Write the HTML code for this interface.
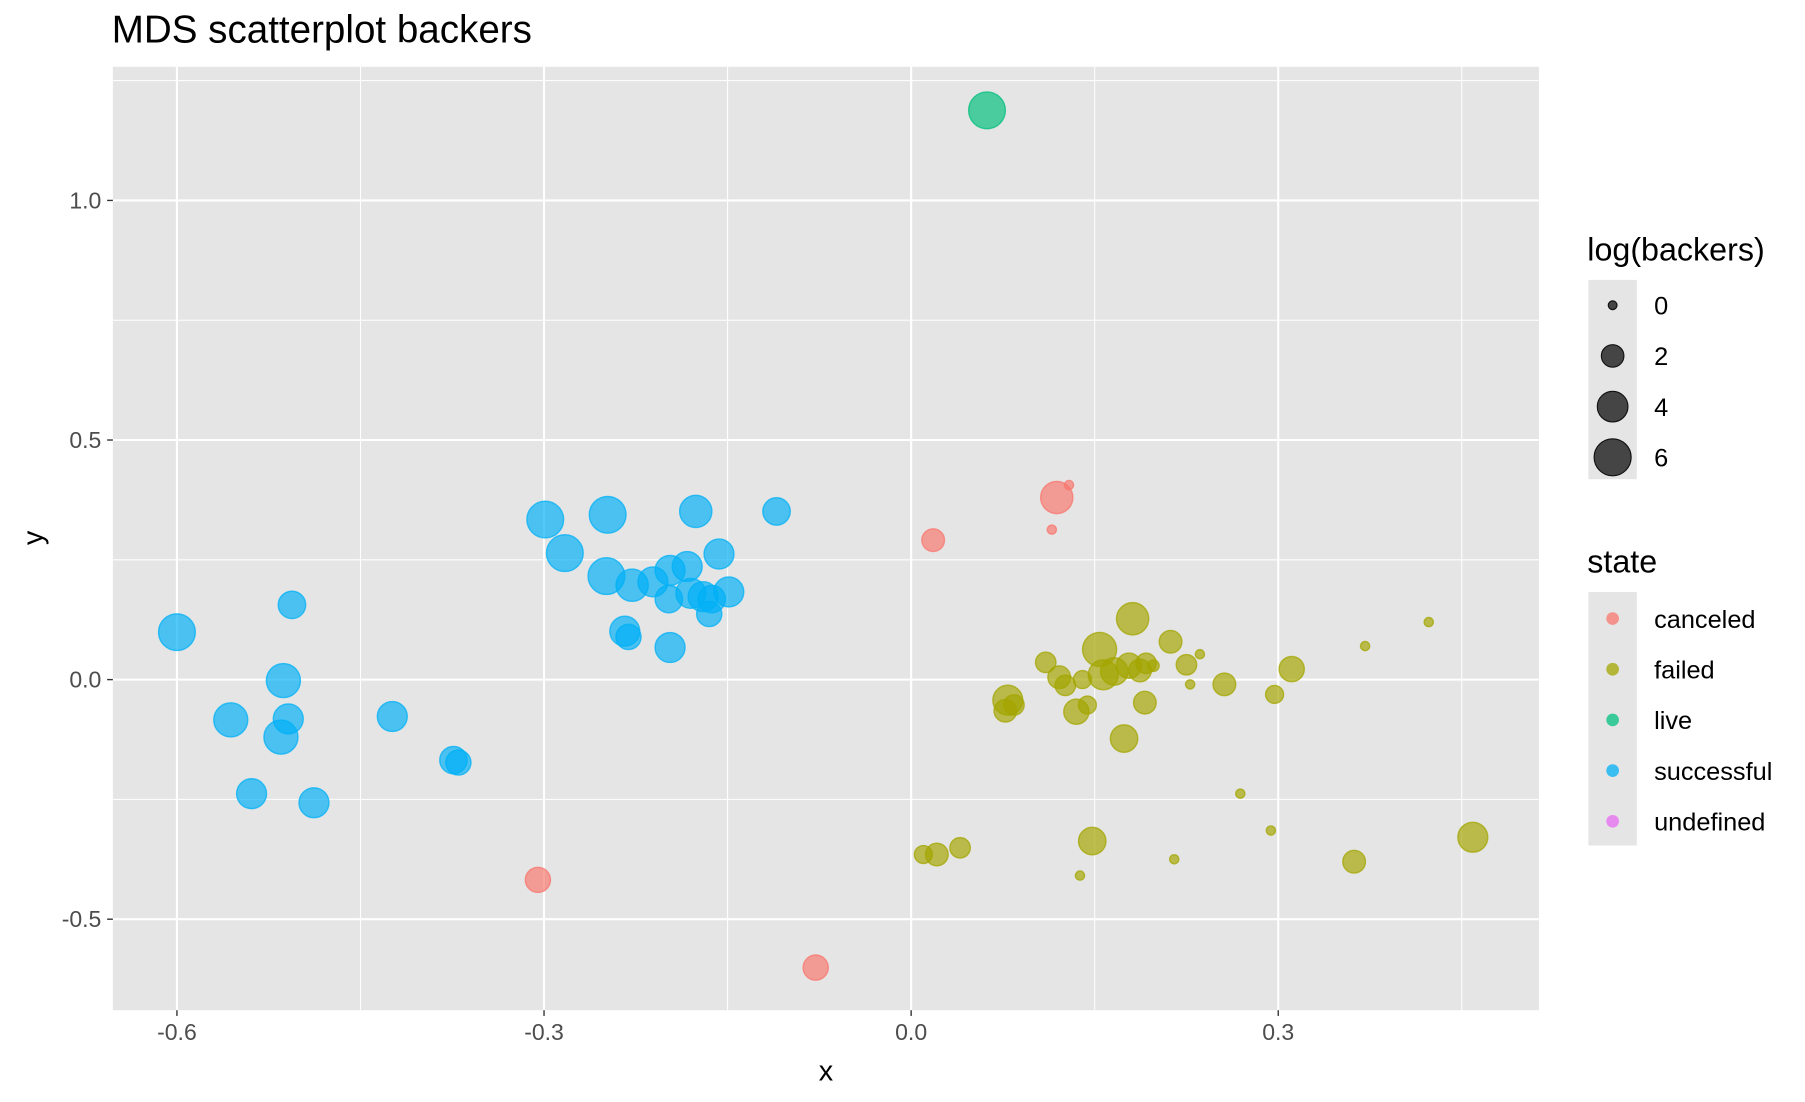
<!DOCTYPE html>
<html><head><meta charset="utf-8"><style>
html,body{margin:0;padding:0;background:#fff;}
svg{display:block;font-family:"Liberation Sans",Arial,sans-serif;}
</style></head><body>
<svg id="chart" width="1805" height="1102" viewBox="0 0 1567 956.7" preserveAspectRatio="none" xmlns="http://www.w3.org/2000/svg">
<text x="97" y="37" font-size="33.5" fill="#000">MDS scatterplot backers</text>
<rect x="98" y="58" width="1238" height="819" fill="#e5e5e5"/>
<g id="grid"></g>
<g id="points"></g>
<g id="axes"></g>
<text x="717" y="938" font-size="25" text-anchor="middle">x</text>
<text transform="translate(37,467) rotate(-90)" font-size="25" text-anchor="middle">y</text>
<g id="legend"></g>
</svg>
<script>
const stateNames = ["canceled","failed","live","successful","undefined"];
const stateColors = ["#F8766D","#A3A500","#00BF7D","#00B0F6","#E76BF3"];
const xTicks = [-0.6,-0.3,0.0,0.3];
const xTickLabels = ["-0.6","-0.3","0.0","0.3"];
const yTicks = [-0.5,0.0,0.5,1.0];
const yTickLabels = ["-0.5","0.0","0.5","1.0"];
const xMinor = [-0.45,-0.15,0.15,0.45];
const yMinor = [-0.25,0.25,0.75,1.25];
const sizeBreaks = [0,2,4,6];
// points: x, y, log(backers), state index
const ptX = [0.062, 0.119,0.129,0.115,0.018,-0.305,-0.078,
 -0.600,-0.506,-0.513,-0.556,-0.509,-0.515,-0.539,-0.488,-0.424,-0.374,-0.370,-0.299,-0.283,-0.248,-0.249,-0.228,-0.234,-0.231,-0.211,-0.197,-0.198,-0.197,-0.183,-0.176,-0.157,-0.180,-0.170,-0.163,-0.165,-0.149,-0.110,
 0.181,0.154,0.212,0.110,0.121,0.126,0.140,0.157,0.166,0.178,0.187,0.192,0.198,0.225,0.236,0.228,0.256,0.311,0.297,0.371,0.423,0.079,0.077,0.084,0.144,0.135,0.191,0.174,0.269,0.294,0.215,0.138,0.148,0.010,0.021,0.040,0.362,0.459];
const ptY = [1.188, 0.380,0.406,0.313,0.291,-0.418,-0.601,
 0.099,0.156,-0.002,-0.084,-0.082,-0.120,-0.238,-0.257,-0.077,-0.168,-0.173,0.334,0.264,0.344,0.216,0.197,0.101,0.089,0.204,0.228,0.168,0.067,0.236,0.351,0.262,0.180,0.173,0.168,0.137,0.183,0.351,
 0.127,0.063,0.079,0.036,0.005,-0.012,0.000,0.010,0.017,0.029,0.019,0.034,0.029,0.031,0.053,-0.010,-0.010,0.022,-0.031,0.070,0.120,-0.043,-0.065,-0.053,-0.053,-0.067,-0.048,-0.123,-0.238,-0.315,-0.375,-0.409,-0.337,-0.365,-0.365,-0.351,-0.380,-0.329];
const ptSize = [5.3, 4,0,0,1.8,2.3,2.3,
 5.3,2.8,4.5,4.5,3.4,4.5,3.4,3.4,3.4,2.8,2.3,5.3,5.3,5.3,5.3,4,3.4,2.3,3.4,3.4,2.8,3.4,3.4,4,3.4,3.4,3.4,2.8,2.3,3.4,2.8,
 4,4.5,1.8,1.4,1.8,1.4,1,3.4,2.8,2.3,1.8,1.4,0.2,1.4,0,0,1.8,2.3,1,0,0,3.4,1.8,1.4,1,2.3,1.8,2.8,0,0,0,0,2.8,1,1.8,1.4,1.8,3.4];
const ptState = [2, 0,0,0,0,0,0,
 3,3,3,3,3,3,3,3,3,3,3,3,3,3,3,3,3,3,3,3,3,3,3,3,3,3,3,3,3,3,3,
 1,1,1,1,1,1,1,1,1,1,1,1,1,1,1,1,1,1,1,1,1,1,1,1,1,1,1,1,1,1,1,1,1,1,1,1,1,1];

const NS="http://www.w3.org/2000/svg";
const sx = v => 791 + v*(318.7/0.3);
const sy = v => 590 - v*416;
const rad = v => Math.sqrt(16 + 45*v);
function mk(tag, attrs, parent){const e=document.createElementNS(NS,tag);for(const k in attrs)e.setAttribute(k,attrs[k]);parent.appendChild(e);return e;}
const grid=document.getElementById('grid'), pts=document.getElementById('points'), axes=document.getElementById('axes'), leg=document.getElementById('legend');
xMinor.forEach(v=>{const l=mk('line',{x1:sx(v),x2:sx(v),y1:58,y2:877,stroke:'#fff','stroke-width':0.9},grid);

});
yMinor.forEach(v=>{const l=mk('line',{x1:98,x2:1336,y1:sy(v),y2:sy(v),stroke:'#fff','stroke-width':0.9},grid);

});
xTicks.forEach((v,i)=>{const l=mk('line',{x1:sx(v),x2:sx(v),y1:58,y2:877,stroke:'#fff','stroke-width':1.8},grid);


const t=mk('line',{x1:sx(v),x2:sx(v),y1:877,y2:882,stroke:'#333','stroke-width':1.2},axes);


const tx=mk('text',{x:sx(v),y:903,'font-size':20,'text-anchor':'middle',fill:'#4d4d4d'},axes);tx.textContent=xTickLabels[i];

});
yTicks.forEach((v,i)=>{const l=mk('line',{x1:98,x2:1336,y1:sy(v),y2:sy(v),stroke:'#fff','stroke-width':1.8},grid);


const t=mk('line',{x1:93,x2:98,y1:sy(v),y2:sy(v),stroke:'#333','stroke-width':1.2},axes);


const tx=mk('text',{x:88,y:sy(v)+7,'font-size':20,'text-anchor':'end',fill:'#4d4d4d'},axes);tx.textContent=yTickLabels[i];

});
ptX.forEach((v,i)=>{const c=stateColors[ptState[i]];
const p=mk('circle',{cx:sx(v),cy:sy(ptY[i]),r:rad(ptSize[i]),fill:c,'fill-opacity':0.68,stroke:c,'stroke-opacity':0.75,'stroke-width':1.2},pts);

});
// legends
const t1=mk('text',{x:1378,y:226,'font-size':28},leg);t1.textContent='log(backers)';


const b1=mk('rect',{x:1379,y:243,width:42,height:173,fill:'#e5e5e5'},leg);


sizeBreaks.forEach((v,i)=>{const y=265+i*44;
const c=mk('circle',{cx:1400,cy:y,r:rad(v)*0.95,fill:'#333','fill-opacity':0.9,stroke:'#111','stroke-width':1},leg);


const t=mk('text',{x:1436,y:y+8,'font-size':22},leg);t.textContent=String(v);

});
const t2=mk('text',{x:1378,y:497,'font-size':28},leg);t2.textContent='state';


const b2=mk('rect',{x:1379,y:514,width:42,height:220,fill:'#e5e5e5'},leg);


stateNames.forEach((n,i)=>{const y=537+i*44;
const c=mk('circle',{cx:1400,cy:y,r:5.5,fill:stateColors[i],'fill-opacity':0.75},leg);


const t=mk('text',{x:1436,y:y+8,'font-size':22},leg);t.textContent=n;

});
</script>
</body></html>
